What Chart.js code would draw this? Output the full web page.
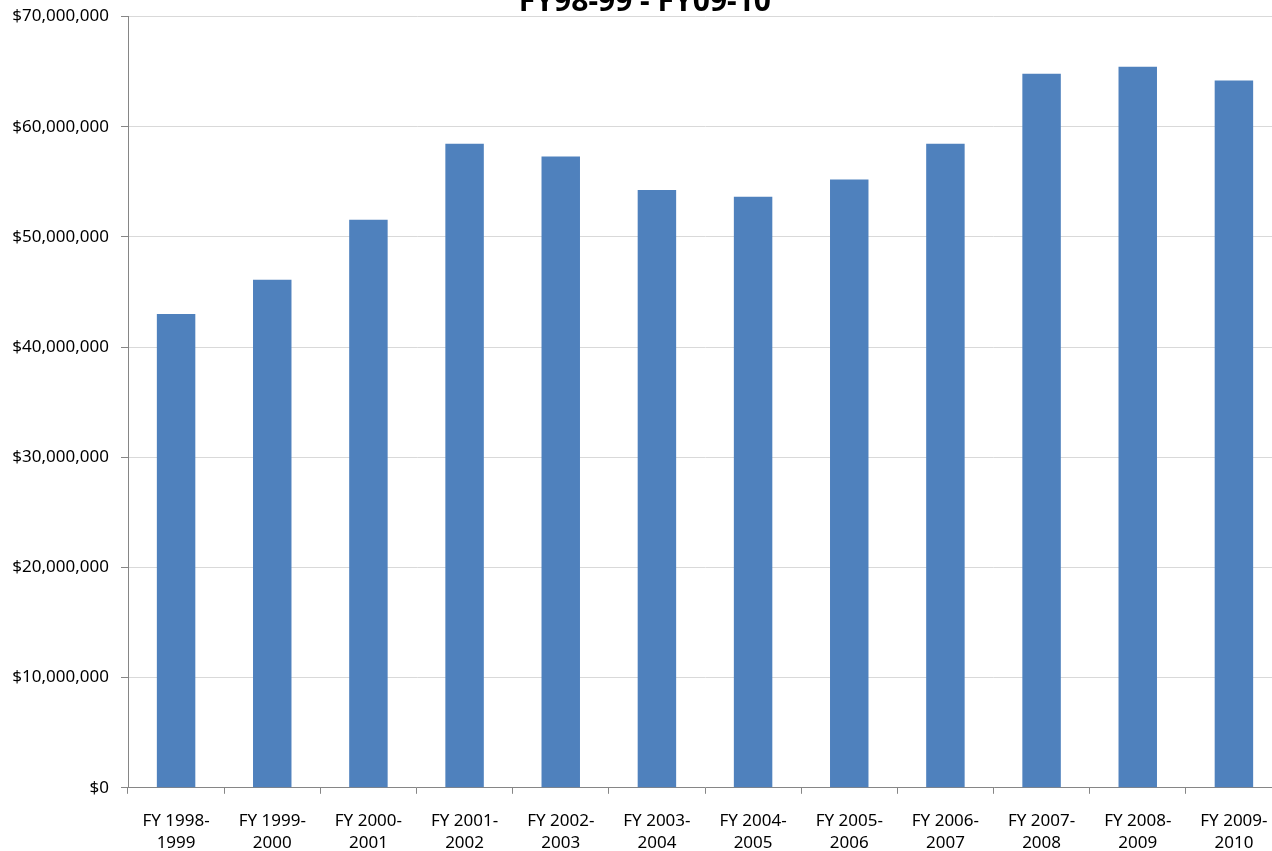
<!DOCTYPE html>
<html>
<head>
<meta charset="utf-8">
<script src="https://cdn.jsdelivr.net/npm/chart.js@4"></script>
<style>
    html, body { margin: 0; padding: 0; overflow: hidden; background: #fff; }
    body { width: 1272px; height: 851px; position: relative; }
    #wrap { position: absolute; left: 0; top: -10px; width: 1292px; height: 888px; }
</style>
</head>
<body>
<div id="wrap"><canvas id="fundingChart"></canvas></div>
<script>
const categories = [
    ['FY 1998-', '1999'], ['FY 1999-', '2000'], ['FY 2000-', '2001'], ['FY 2001-', '2002'],
    ['FY 2002-', '2003'], ['FY 2003-', '2004'], ['FY 2004-', '2005'], ['FY 2005-', '2006'],
    ['FY 2006-', '2007'], ['FY 2007-', '2008'], ['FY 2008-', '2009'], ['FY 2009-', '2010']
];
// dollars
const amounts = [
    43000000, 46100000, 51550000, 58450000, 57300000, 54250000,
    53650000, 55200000, 58450000, 64800000, 65450000, 64200000
];
const yMin = 0;
const yMax = 70000000;
const yStep = 10000000;

// leading space nudges the centred title a few px right, like the original
const titleText = ' FY98-99 - FY09-10';
const barColor = '#4F81BD';
const axisColor = '#868686';
const gridColor = '#D9D9D9';

const fontFamily = "'Noto Sans', sans-serif";

function money(v) {
    return '$' + Math.round(v).toLocaleString('en-US');
}

const ctx = document.getElementById('fundingChart').getContext('2d');
const fundingChart = new Chart(ctx, {
    type: 'bar',
    data: {
        labels: categories,
        datasets: [{
            data: amounts,
            backgroundColor: barColor,
            borderWidth: 0,
            barPercentage: 0.4,
            categoryPercentage: 1.0
        }]
    },
    options: {
        responsive: true,
        maintainAspectRatio: false,
        animation: false,
        layout: {
            padding: { left: 0, right: 10, top: 0, bottom: 8 }
        },
        plugins: {
            legend: { display: false },
            tooltip: { enabled: false },
            title: {
                display: true,
                text: titleText,
                color: '#000',
                font: { family: fontFamily, size: 30, weight: 'bold', lineHeight: 0.75 },
                padding: { top: 1, bottom: 3 }
            }
        },
        scales: {
            x: {
                grid: {
                    offset: true,
                    drawOnChartArea: false,
                    drawTicks: true,
                    tickLength: 6,
                    color: axisColor
                },
                border: { color: axisColor },
                ticks: {
                    color: '#000',
                    padding: 16,
                    maxRotation: 0,
                    autoSkip: false,
                    font: { family: fontFamily, size: 17, lineHeight: 1.3 }
                }
            },
            y: {
                min: yMin,
                max: yMax,
                afterFit: (scale) => { scale.width = 128; },
                grid: {
                    color: gridColor,
                    tickColor: axisColor,
                    tickLength: 7
                },
                border: { color: axisColor },
                ticks: {
                    stepSize: yStep,
                    color: '#000',
                    padding: 12,
                    font: { family: fontFamily, size: 17 },
                    callback: (v) => money(v)
                }
            }
        }
    }
});
</script>
</body>
</html>
